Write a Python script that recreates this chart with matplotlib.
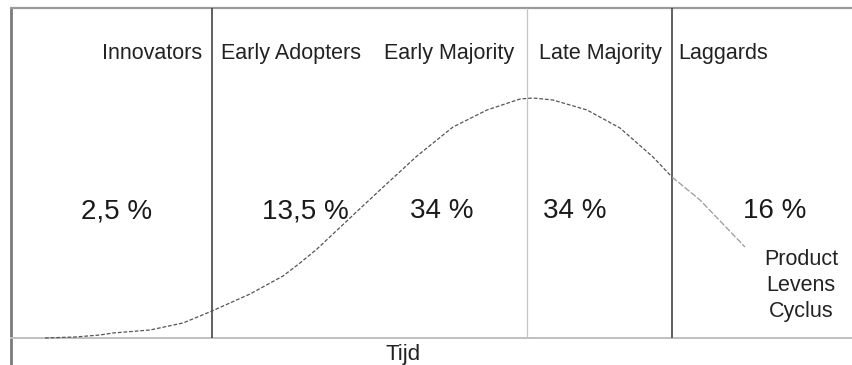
import matplotlib
matplotlib.use("Agg")
import matplotlib.pyplot as plt

plt.rcParams['font.family'] = ['Liberation Sans', 'DejaVu Sans']

# Curve (time units, height above baseline)
curve_x = [45, 75, 100, 113, 150, 183, 212, 250, 283, 300, 317, 350, 380, 417,
           453, 487, 520, 533, 553, 587, 620, 653, 672, 700, 745]
curve_y = [0, 1, 3, 5, 8, 15, 27, 44, 62, 75, 89, 120, 148, 182,
           211, 228, 239, 240, 238, 228, 210, 181, 161, 138, 91]

phase_names = ["Innovators", "Early Adopters", "Early Majority", "Late Majority", "Laggards"]
phase_name_x = [152, 291, 449, 600, 723]
shares = ["2,5 %", "13,5 %", "34 %", "34 %", "16 %"]
share_x = [117, 305, 442, 575, 775]
boundaries = [212, 527, 672]
boundary_colors = ['#444444', '#c4c4c4', '#444444']
boundary_widths = [1.2, 0.9, 1.2]

fig = plt.figure(figsize=(8.53, 3.65), dpi=100)
ax = fig.add_axes([0, 0, 1, 1])
ax.set_xlim(0, 853)
ax.set_ylim(-27, 338)
ax.axis('off')

# frame lines
ax.plot([11, 11], [-27, 330], color='#7a7a7a', lw=2.0, solid_capstyle='butt')
ax.plot([10, 853], [330, 330], color='#9a9a9a', lw=1.6, solid_capstyle='butt')
ax.plot([10, 853], [0, 0], color='#c0c0c0', lw=1.4, solid_capstyle='butt')

for bx, c, w in zip(boundaries, boundary_colors, boundary_widths):
    ax.plot([bx, bx], [0, 330], color=c, lw=w, solid_capstyle='butt')

# curve: darker until the last boundary, lighter afterwards
split = curve_x.index(672) + 1
ax.plot(curve_x[:split], curve_y[:split], color='#555555', lw=0.9,
        linestyle=(0, (3, 1.5)))
ax.plot(curve_x[split - 1:], curve_y[split - 1:], color='#9a9a9a', lw=0.9,
        linestyle=(0, (5, 1.5)))

for name, x in zip(phase_names, phase_name_x):
    ax.text(x, 279, name, ha='center', va='baseline', fontsize=15.5, color='#222222')

for s, x in zip(shares, share_x):
    ax.text(x, 120, s, ha='center', va='baseline', fontsize=20, color='#1a1a1a')

for t, y in zip(["Product", "Levens", "Cyclus"], [73, 47, 21]):
    ax.text(801, y, t, ha='center', va='baseline', fontsize=15.5, color='#222222')

ax.text(403, -22, "Tijd", ha='center', va='baseline', fontsize=16, color='#222222')

fig.savefig("out.png", dpi=100)
